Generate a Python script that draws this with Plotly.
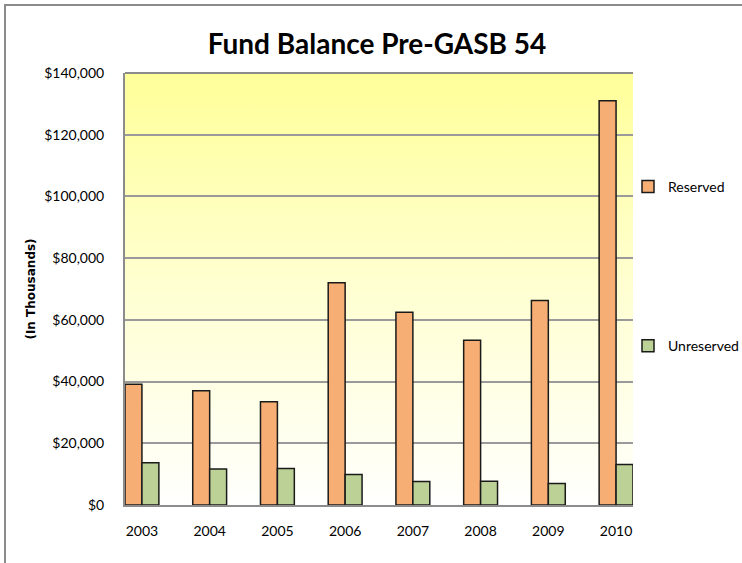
import base64
import plotly.graph_objects as go

years = ['2003', '2004', '2005', '2006', '2007', '2008', '2009', '2010']
reserved = [39100, 37000, 33500, 72000, 62500, 53400, 66300, 131000]
unreserved = [13700, 11700, 11800, 9900, 7600, 7700, 7000, 13100]
y_ticks = [0, 20000, 40000, 60000, 80000, 100000, 120000, 140000]
y_labels = ['$0', '$20,000', '$40,000', '$60,000', '$80,000', '$100,000', '$120,000', '$140,000']

FONT = 'Lato, sans-serif'

# vertical yellow -> white gradient for the plot background
svg = ('<svg xmlns="http://www.w3.org/2000/svg" width="100" height="100" preserveAspectRatio="none">'
       '<defs><linearGradient id="g" x1="0" y1="0" x2="0" y2="1">'
       '<stop offset="0" stop-color="#FFFF99"/><stop offset="0.5" stop-color="#FFFFD2"/>'
       '<stop offset="1" stop-color="#FFFFFD"/></linearGradient></defs>'
       '<rect width="100" height="100" fill="url(#g)"/></svg>')
bg = 'data:image/svg+xml;base64,' + base64.b64encode(svg.encode()).decode()

fig = go.Figure([
    go.Bar(x=years, y=reserved, name='Reserved', legendgroup='r',
           marker=dict(color='#F7AE74', line=dict(color='#1a1a1a', width=1.5))),
    go.Bar(x=years, y=unreserved, name='Unreserved', legendgroup='u',
           marker=dict(color='#BCD196', line=dict(color='#1a1a1a', width=1.5))),
])

W, H = 742, 563
ml, mr, mt, mb = 125, 109, 73, 58
pw, ph = W - ml - mr, H - mt - mb

fig.update_layout(
    width=W, height=H,
    margin=dict(l=ml, r=mr, t=mt, b=mb, autoexpand=False),
    title=dict(text='<b>Fund Balance Pre-GASB 54</b>', x=(377 - ml) / pw, xref='paper',
               xanchor='center', y=1 - 44 / H, yanchor='middle',
               font=dict(family=FONT, size=28, color='#000000')),
    font=dict(family=FONT, size=14, color='#000000'),
    barmode='group', bargap=0.5, bargroupgap=0,
    plot_bgcolor='rgba(0,0,0,0)', paper_bgcolor='white',
    xaxis=dict(range=[-0.25, 7.25], showgrid=False, showline=True, linecolor='#8c8c8c',
               linewidth=2, ticks='', ticklabelstandoff=12, automargin=False,
               tickfont=dict(size=14)),
    yaxis=dict(range=[0, 140000], tickvals=y_ticks, ticktext=y_labels,
               showgrid=True, gridcolor='#9a9a9a', gridwidth=1.5,
               showline=True, linecolor='#8c8c8c', linewidth=2, zeroline=False,
               ticks='', ticklabelstandoff=16, automargin=False, tickfont=dict(size=14),
               title=dict(text='<b>(In Thousands)</b>', standoff=6,
                          font=dict(family='DejaVu Sans, sans-serif', size=12))),
    legend=dict(x=(628 - ml) / pw, xanchor='left', y=1 - (171 - mt) / ph, yanchor='top',
                bgcolor='rgba(0,0,0,0)', traceorder='grouped', tracegroupgap=138,
                itemwidth=30, font=dict(size=14)),
    images=[dict(source=bg, xref='paper', yref='paper', x=0, y=1, sizex=1, sizey=1,
                 sizing='stretch', layer='below', xanchor='left', yanchor='top')],
    shapes=[
        # plot top border
        dict(type='line', xref='paper', yref='paper', x0=0, x1=1, y0=1, y1=1,
             line=dict(color='#8c8c8c', width=2)),
        # outer chart border
        dict(type='rect', xref='paper', yref='paper',
             x0=(5 - ml) / pw, x1=(W + 20 - ml) / pw,
             y0=-(mb + 20) / ph, y1=1 + (mt - 5) / ph,
             line=dict(color='#8c8c8c', width=2)),
    ],
)

fig.write_html('out.html', config={'displayModeBar': False},
               post_script="document.body.style.margin='0';")
